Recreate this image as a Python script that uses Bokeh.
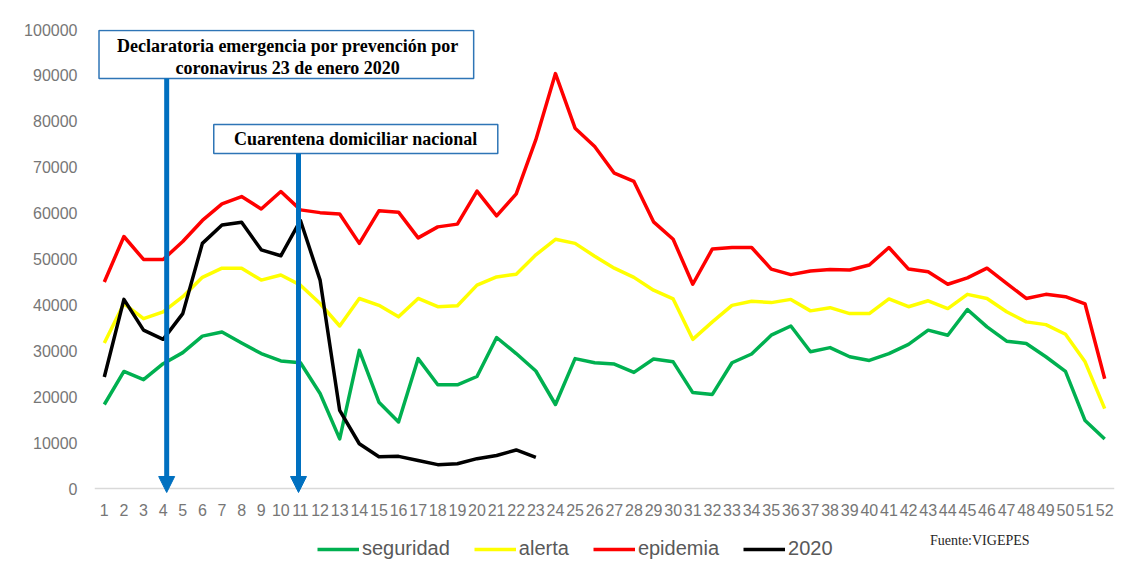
from bokeh.plotting import figure
from bokeh.models import (FixedTicker, NumeralTickFormatter, Legend, LegendItem,
                          Arrow, NormalHead)
from bokeh.core.properties import value
from bokeh.embed import file_html
from bokeh.resources import INLINE

# ---------------- data ----------------
weeks = list(range(1, 53))
seguridad = [18300, 25500, 23700, 27200, 29600, 33200, 34100, 31700, 29400, 27800,
             27400, 20700, 10800, 30100, 18800, 14500, 28300, 22600, 22600, 24400,
             32900, 29400, 25600, 18300, 28300, 27400, 27100, 25300, 28200, 27600,
             20900, 20500, 27400, 29300, 33400, 35400, 29800, 30700, 28700, 27900,
             29400, 31400, 34500, 33400, 39000, 35200, 32100, 31600, 28700, 25500,
             14800, 10800]
alerta = [31700, 40300, 37000, 38500, 41800, 46000, 48000, 48000, 45400, 46500,
          44300, 40300, 35400, 41400, 39900, 37400, 41400, 39600, 39800, 44300,
          46100, 46700, 50900, 54300, 53400, 50600, 48000, 46000, 43200, 41300,
          32500, 36300, 39900, 40800, 40500, 41200, 38700, 39400, 38100, 38100,
          41300, 39600, 40900, 39200, 42300, 41400, 38500, 36300, 35700, 33600,
          27600, 17400]
epidemia = [45000, 54900, 49900, 49900, 53800, 58400, 62000, 63600, 60900, 64700,
            60700, 60100, 59800, 53400, 60500, 60200, 54600, 57000, 57600, 64800,
            59400, 64200, 76000, 90400, 78500, 74500, 68700, 66900, 58100, 54300,
            44500, 52200, 52500, 52500, 47800, 46600, 47400, 47700, 47600, 48700,
            52500, 47800, 47200, 44500, 45900, 48000, 44700, 41400, 42300, 41800,
            40200, 23900]
weeks_2020 = list(range(1, 24))
y2020 = [24300, 41200, 34500, 32500, 38100, 53400, 57400, 58000, 52000, 50700,
         58400, 45400, 17000, 9750, 6900, 7000, 6100, 5200, 5400, 6500,
         7200, 8400, 6800]

series_labels = ["seguridad", "alerta", "epidemia", "2020"]
y_ticks = list(range(0, 100001, 10000))

note_texts = ["Declaratoria emergencia por prevención por",
              "coronavirus 23 de enero 2020",
              "Cuarentena domiciliar nacional"]
source_text = "Fuente:VIGEPES"

# ---------------- figure ----------------
# frame extends below the zero line so the legend area lies inside it
p = figure(width=1120, height=570, x_range=(0.5, 52.5), y_range=(-17429, 100000),
           output_backend="svg", toolbar_location=None,
           min_border_left=94, min_border_right=6, min_border_top=29, min_border_bottom=2)
p.outline_line_color = None
p.xgrid.visible = False
p.ygrid.visible = False
p.background_fill_color = "white"

tick_font = "Liberation Sans"
p.xaxis.fixed_location = 0
p.xaxis.ticker = FixedTicker(ticks=weeks)
p.xaxis.major_tick_line_color = None
p.xaxis.minor_tick_line_color = None
p.xaxis.major_tick_out = 0
p.xaxis.major_label_standoff = 15
p.xaxis.axis_line_color = "#d9d9d9"
p.xaxis.axis_line_width = 1.5
p.xaxis.major_label_text_font = tick_font
p.xaxis.major_label_text_font_size = "16px"
p.xaxis.major_label_text_color = "#767676"

p.yaxis.ticker = FixedTicker(ticks=y_ticks)
p.yaxis.formatter = NumeralTickFormatter(format="0")
p.yaxis.axis_line_color = None
p.yaxis.major_tick_line_color = None
p.yaxis.minor_tick_line_color = None
p.yaxis.major_tick_out = 0
p.yaxis.major_label_standoff = 17
p.yaxis.major_label_text_font = tick_font
p.yaxis.major_label_text_font_size = "16px"
p.yaxis.major_label_text_color = "#767676"

lw = 3.5
r_g = p.line(weeks, seguridad, line_color="#00b050", line_width=lw, line_join="round")
r_y = p.line(weeks, alerta, line_color="#ffff00", line_width=lw, line_join="round")
r_r = p.line(weeks, epidemia, line_color="#ff0000", line_width=lw, line_join="round")
r_k = p.line(weeks_2020, y2020, line_color="#000000", line_width=lw, line_join="round")
r_none = p.line(x=[1], y=[0], line_alpha=0)

# ---------------- annotations ----------------
p.quad(left=[0.73, 6.58], right=[19.83, 21.06], top=[99780, 79300], bottom=[89320, 72985],
       fill_color="white", line_color="#2e75b6", line_width=1.5)
p.text(x=[10.35, 10.35, 13.82], y=[96300, 91700, 76100], text=note_texts,
       text_font=value("Liberation Serif"), text_font_style="bold", text_font_size="18px",
       text_align="center", text_baseline="middle", text_color="black")

blue = "#0070c0"
for xa, ys in [(4.18, 89320), (10.90, 72985)]:
    p.add_layout(Arrow(end=NormalHead(size=16, fill_color=blue, line_color=blue, line_width=1),
                       x_start=xa, y_start=ys, x_end=xa, y_end=-870,
                       line_color=blue, line_width=5))

# ---------------- legend ----------------
legend = Legend(items=[LegendItem(label=lab, renderers=[r])
                       for r, lab in zip([r_g, r_y, r_r, r_k], series_labels)],
                location=(223, 8), orientation="horizontal", glyph_width=42, glyph_height=20,
                label_standoff=3, spacing=24, padding=0, margin=0, border_line_color=None,
                background_fill_alpha=0, label_text_font="Liberation Sans",
                label_text_font_size="20px", label_text_color="#595959")
p.add_layout(legend, "center")

src = Legend(items=[LegendItem(label=source_text, renderers=[r_none])],
             location=(836, 19), orientation="horizontal", glyph_width=0, glyph_height=14,
             label_standoff=0, padding=0, margin=0, border_line_color=None,
             background_fill_alpha=0, label_text_font="Liberation Serif",
             label_text_font_size="14px", label_text_color="#262626", label_height=14)
p.add_layout(src, "center")

open("out.html", "w").write(file_html(p, INLINE))
